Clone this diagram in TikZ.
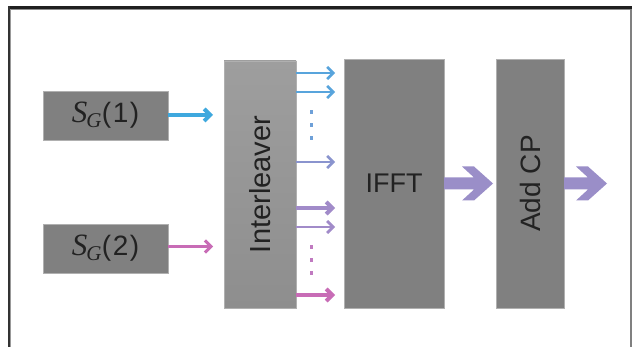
\documentclass[tikz,border=0pt]{standalone}
\usepackage{fontspec}
\setmainfont{Liberation Sans}
\newfontfamily\lserif{Liberation Serif}
\usetikzlibrary{arrows.meta}
\definecolor{boxgray}{RGB}{128,128,128}
\definecolor{boxedge}{RGB}{176,176,176}
\definecolor{txt}{RGB}{34,34,34}
\definecolor{cblue}{RGB}{62,168,222}
\definecolor{cblueb}{RGB}{88,164,220}
\definecolor{cperi}{RGB}{138,148,206}
\definecolor{cpurp}{RGB}{161,139,201}
\definecolor{cpink}{RGB}{200,108,182}
\definecolor{cbig}{RGB}{154,142,200}
\definecolor{dotblue}{RGB}{110,160,216}
\definecolor{dotpink}{RGB}{192,122,192}
\tikzset{
  blk/.style={draw=boxedge, line width=0.6pt, fill=boxgray, inner sep=0pt, outer sep=0pt, text=txt,
    font=\fontsize{27}{30}\selectfont},
  sarrow/.style={-{Straight Barb[length=6pt,width=12pt]}},
  dotmark/.style={rectangle, inner sep=0pt, minimum width=2.4pt, minimum height=3.6pt},
}
\newcommand\sglabel[1]{{\lserif\itshape\fontsize{31}{31}\selectfont S\kern-1pt\raisebox{-0.3ex}{\fontsize{21}{21}\selectfont G}}\kern0.5pt{\fontsize{28}{30}\selectfont(\kern1.5pt#1\kern1.5pt)}}
\newcommand\fatarrow[3]{% #1 start, #2 shaft length, #3 colour
  \fill[#3] (#1) ++(0,-6) -- ++(#2,0) -- ++(-12,-11) -- ++(12,0) -- ++(19,17)
    -- ++(-19,17) -- ++(-12,0) -- ++(12,-11) -- ++(-#2,0) -- cycle;}
\begin{document}
\begin{tikzpicture}[x=1pt,y=-1pt]
\useasboundingbox (0,0) rectangle (632,347);
\fill[white] (0,0) rectangle (632,347);
% frame
\fill[black!88] (8,6) rectangle (632,9);
\fill[black!45] (8,9) rectangle (632,10.3);
\fill[black!80] (8.3,6) rectangle (10.3,347);
\fill[black!40] (10.3,9) rectangle (11,347);
\fill[black!50] (630,9) rectangle (632,347);

% blocks
\node[blk, minimum width=125pt, minimum height=49pt] (sg1) at (105.5,115.5) {\sglabel{1}};
\node[blk, minimum width=125pt, minimum height=49pt] (sg2) at (105.5,248.5) {\sglabel{2}};
\node[blk, draw=boxedge, top color={rgb,255:red,158;green,158;blue,158}, bottom color={rgb,255:red,142;green,142;blue,142},
  minimum width=72pt, minimum height=247pt] (inter) at (260,184.5) {};
\node[rotate=90, text=txt, font=\fontsize{29}{30}\selectfont] at (inter.center) {Interleaver};
\node[blk, minimum width=100pt, minimum height=249pt] (ifft) at (394,183.5) {IFFT};
\node[blk, minimum width=68pt, minimum height=249pt] (addcp) at (530,183.5) {};
\node[rotate=90, text=txt, font=\fontsize{28}{30}\selectfont] at (addcp.center) {Add CP};

% inputs
\draw[sarrow, cblue, line width=4pt] ([yshift=0.5pt]sg1.east) -- ([xshift=-11pt,yshift=0.5pt]sg1.east -| inter.west);
\draw[sarrow, cpink, line width=3pt] ([yshift=2pt]sg2.east) -- ([xshift=-11pt,yshift=2pt]sg2.east -| inter.west);

% interleaver outputs
\foreach \yy/\cc/\ww in {73/cblueb/2.6, 92/cblueb/2.6, 162/cperi/2.6, 208/cpurp/4, 227/cpurp/2.8, 295/cpink/4}{
  \coordinate (o\yy) at (inter.east |- 0,\yy);
  \draw[sarrow, \cc, line width=\ww pt] (o\yy) -- ([xshift=-9pt]o\yy -| ifft.west);
}
% dots
\foreach \yy in {112,125,138}{\node[dotmark, fill=dotblue] at (311.5,\yy) {};}
\foreach \yy in {247,260,273}{\node[dotmark, fill=dotpink] at (311.5,\yy) {};}

% big arrows
\fatarrow{ifft.east}{30}{cbig}
\fatarrow{addcp.east}{24}{cbig}
\end{tikzpicture}
\end{document}
